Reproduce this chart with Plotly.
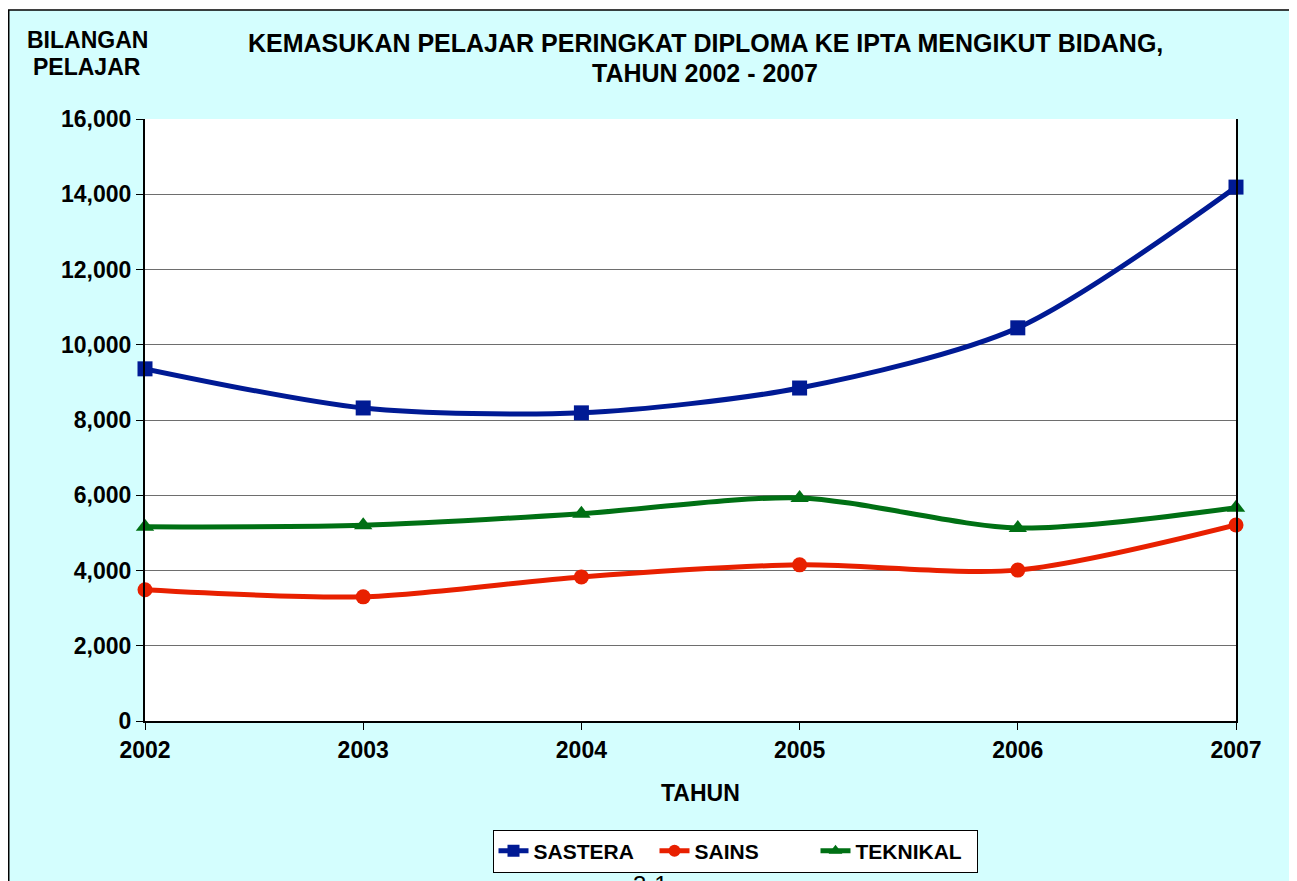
import plotly.graph_objects as go

years = [2002, 2003, 2004, 2005, 2006, 2007]
sastera = [9360, 8320, 8190, 8850, 10450, 14190]
sains = [3490, 3300, 3830, 4150, 4010, 5210]
teknikal = [5160, 5200, 5510, 5930, 5130, 5670]
y_ticks = [0, 2000, 4000, 6000, 8000, 10000, 12000, 14000, 16000]

W, H = 1297, 881
OFF = 8  # page body margin
def px(x):
    return (x - OFF) / W
def py(y):
    return (H - (y - OFF)) / H

FONT = "Liberation Sans, Arial, sans-serif"
BG = "#D4FEFE"

fig = go.Figure()
series = [
    ("SASTERA", sastera, "#001A94", "square", 15),
    ("SAINS", sains, "#E82000", "circle", 15),
    ("TEKNIKAL", teknikal, "#007014", "triangle-up", 16),
]
for name, vals, col, sym, ms in series:
    fig.add_trace(go.Scatter(
        x=years, y=vals, name=name, mode="lines+markers",
        line=dict(color=col, width=5, shape="spline", smoothing=0.8),
        marker=dict(symbol=sym, size=ms, color=col),
        cliponaxis=False,
    ))

def ann(text, x, y, size, yanchor="middle"):
    return dict(text=text, x=px(x), y=py(y), xref="paper", yref="paper",
                showarrow=False, xanchor="center", yanchor=yanchor,
                font=dict(size=size, family=FONT, color="black"), align="center")

fig.update_layout(
    width=W, height=H,
    autosize=False,
    margin=dict(l=0, r=0, t=0, b=0, pad=0, autoexpand=False),
    paper_bgcolor="white",
    plot_bgcolor="white",
    font=dict(family=FONT, color="black"),
    showlegend=True,
    legend=dict(
        orientation="h", x=px(735), xanchor="center", y=py(851), yanchor="middle",
        bgcolor="white", bordercolor="black", borderwidth=1,
        font=dict(size=21, family=FONT, weight="bold"),
        tracegroupgap=0, itemsizing="constant",
        entrywidth=116, entrywidthmode="pixels",
    ),
    xaxis=dict(
        domain=[px(145), px(1236)], range=[2002, 2007], automargin=False,
        tickmode="array", tickvals=years, ticktext=[str(y) for y in years],
        showgrid=False, zeroline=False, showline=True, linecolor="black", linewidth=2,
        ticks="outside", ticklen=7, tickcolor="black",
        tickfont=dict(size=23, family=FONT, weight="bold"),
    ),
    yaxis=dict(
        domain=[py(721), py(119)], range=[0, 16000], automargin=False,
        tickmode="array", tickvals=y_ticks,
        ticktext=[f"{v:,}" for v in y_ticks],
        showgrid=True, gridcolor="#6E6E6E", gridwidth=1,
        zeroline=False, showline=True, linecolor="black", linewidth=2, mirror=True,
        ticks="outside", ticklen=7, tickcolor="black",
        tickfont=dict(size=23, family=FONT, weight="bold"),
    ),
    shapes=[
        dict(type="rect", xref="paper", yref="paper", x0=px(8.75), x1=1.05, y0=-0.05, y1=py(10),
             fillcolor=BG, line=dict(color="black", width=1.5), layer="below"),
        dict(type="rect", xref="x domain", yref="y domain", x0=0, x1=1, y0=0, y1=1,
             fillcolor="white", line=dict(width=0), layer="below"),
    ],
    annotations=[
        ann("<b>KEMASUKAN PELAJAR PERINGKAT DIPLOMA KE IPTA MENGIKUT BIDANG,</b>", 705, 43, 25),
        ann("<b>TAHUN 2002 - 2007</b>", 705, 73, 25),
        ann("<b>BILANGAN</b>", 87, 40, 23),
        ann("<b>PELAJAR</b>", 87, 67, 23),
        ann("<b>TAHUN</b>", 700, 793, 23),
        ann("3-1", 650, 869, 24, yanchor="top"),
    ],
)

fig.write_html("out.html")
